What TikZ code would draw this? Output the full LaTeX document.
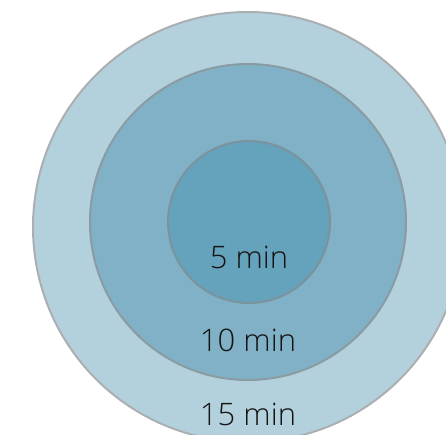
\documentclass[tikz,border=0pt]{standalone}
\usepackage{fontspec}
\IfFontExistsTF{Open Sans Light}{\setmainfont{Open Sans Light}}{\setmainfont{Open Sans}}
\usepackage{tikz}
\usetikzlibrary{positioning}

\definecolor{ringouter}{HTML}{B3D1DC}
\definecolor{ringmiddle}{HTML}{80B1C6}
\definecolor{ringinner}{HTML}{65A2BC}
\definecolor{edgeouter}{HTML}{ABAFB1}
\definecolor{edgemiddle}{HTML}{8A9BA2}
\definecolor{edgeinner}{HTML}{7B939D}
\definecolor{labeltext}{HTML}{151515}

\begin{document}
\begin{tikzpicture}[
    x=1pt, y=-1pt,
    every node/.style={align=center}
]

\tikzset{
    ring/.style={circle, inner sep=0pt, line width=2pt},
    timelabel/.style={inner sep=0pt, text=labeltext, font=\fontsize{31}{37}\selectfont}
}

\useasboundingbox (0,0) rectangle (446,434);
\clip (0,0) rectangle (446,434);

\node [ring, draw=edgeouter, fill=ringouter, minimum size=430pt] (outer) at (248,227) {};
\node [ring, draw=edgemiddle, fill=ringmiddle, minimum size=316pt] (middle) at (248,222) {};
\node [ring, draw=edgeinner, fill=ringinner, minimum size=162pt] (inner) at (249,222) {};

\node [timelabel] (five) [above=35pt of inner.south] {5 min};
\node [timelabel] (ten) [above=29.5pt of middle.south] {10 min};
\node [timelabel] (fifteen) [above=17pt of outer.south] {15 min};

\end{tikzpicture}
\end{document}
